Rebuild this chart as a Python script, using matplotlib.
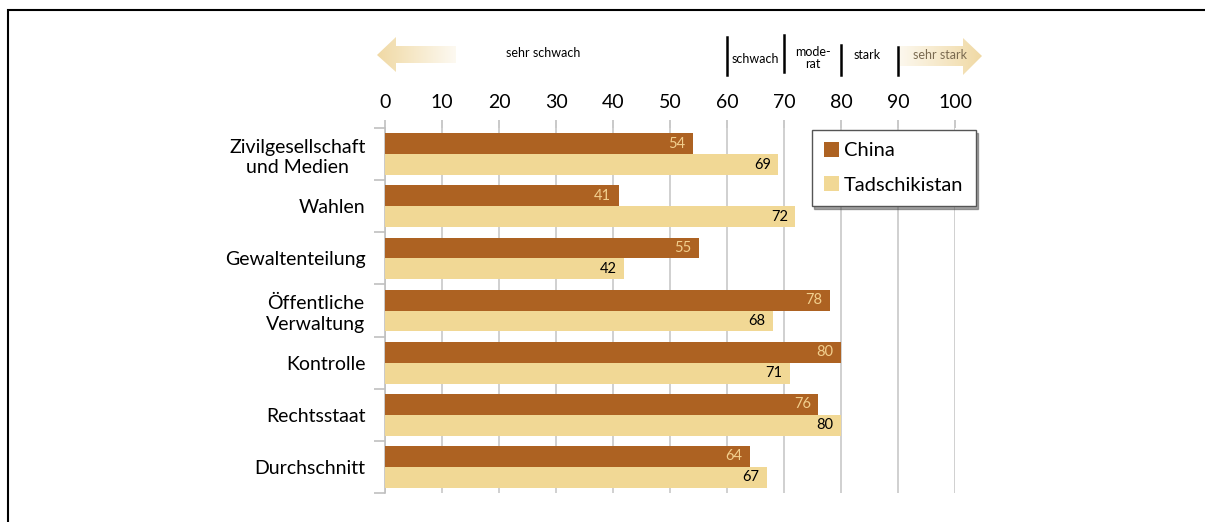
import matplotlib
matplotlib.use("Agg")
import matplotlib.pyplot as plt
import numpy as np
from matplotlib.patches import Rectangle, Polygon
from matplotlib.transforms import blended_transform_factory

plt.rcParams['font.family'] = ['Lato', 'DejaVu Sans']

categories = ["Zivilgesellschaft\nund Medien", "Wahlen", "Gewaltenteilung",
              "Öffentliche\nVerwaltung", "Kontrolle", "Rechtsstaat", "Durchschnitt"]
china = [54, 41, 55, 78, 80, 76, 64]
tadschikistan = [69, 72, 42, 68, 71, 80, 67]
xticks = [0, 10, 20, 30, 40, 50, 60, 70, 80, 90, 100]
scale_bounds = [60, 70, 80, 90]

C_CHINA = "#AD6222"
C_TAD = "#F1D895"
C_LBL = "#F2CF8E"

W, H = 1205, 522
fig = plt.figure(figsize=(W / 100, H / 100), dpi=100)
ax = fig.add_axes([385 / W, 1 - 493 / H, 570 / W, 365 / H])

y = np.arange(len(categories))
bh = 0.4
ax.barh(y - bh / 2, china, height=bh, color=C_CHINA, zorder=3, label="China")
ax.barh(y + bh / 2, tadschikistan, height=bh, color=C_TAD, zorder=3, label="Tadschikistan")

for i, (c, t) in enumerate(zip(china, tadschikistan)):
    ax.text(c - 1.3, i - bh / 2, str(c), ha='right', va='center', fontsize=10.5, color=C_LBL, zorder=4)
    ax.text(t - 1.3, i + bh / 2, str(t), ha='right', va='center', fontsize=10.5, color='black', zorder=4)

ax.set_xlim(0, 100)
ax.set_ylim(len(categories) - 0.5, -0.5)
ax.xaxis.tick_top()
ax.set_xticks(xticks)
ax.set_xticklabels([str(v) for v in xticks], fontsize=14)
ax.tick_params(axis='x', which='major', length=6, color='#c0c0c0', width=1.2, pad=6)
ax.grid(axis='x', color='#c8c8c8', linewidth=1.2, zorder=0)

ax.set_yticks(y)
ax.set_yticklabels(categories, fontsize=14, ha='right')
ax.tick_params(axis='y', which='major', length=0, pad=14)
ax.set_yticks(np.arange(-0.5, len(categories) + 0.5, 1), minor=True)
ax.tick_params(axis='y', which='minor', length=8, color='#c0c0c0', width=1.2)
for lab in ax.get_yticklabels():
    lab.set_multialignment('center')
    lab.set_linespacing(1.25)

for s in ['top', 'right', 'bottom']:
    ax.spines[s].set_visible(False)
ax.spines['left'].set_color('#c0c0c0')
ax.spines['left'].set_linewidth(1.2)

leg = ax.legend(loc='upper right', bbox_to_anchor=(1.036, 0.995), fontsize=14.5,
                frameon=True, fancybox=False, shadow=True, edgecolor='#555555',
                handlelength=0.75, handleheight=0.75, handletextpad=0.25,
                labelspacing=0.85, borderpad=0.6, borderaxespad=0)
leg.get_frame().set_linewidth(1.0)

# Scale annotations above axis
tr = blended_transform_factory(ax.transData, fig.transFigure)
line_spans = {60: (37, 75), 70: (35, 72), 80: (45, 75), 90: (47, 75)}
for b in scale_bounds:
    y0, y1 = line_spans[b]
    ax.plot([b, b], [1 - y1 / H, 1 - y0 / H], transform=tr, color='black', lw=1.8, clip_on=False)
fig.text(543 / W, 1 - 53 / H, "sehr schwach", fontsize=9, ha='center', va='center')
ax.text(65, 1 - 59 / H, "schwach", transform=tr, fontsize=9, ha='center', va='center')
ax.text(75, 1 - 58 / H, "mode-\nrat", transform=tr, fontsize=9, ha='center', va='center', linespacing=1.1)
ax.text(84.5, 1 - 55 / H, "stark", transform=tr, fontsize=9, ha='center', va='center')

# gradient arrows on overlay axes (pixel space)
ov = fig.add_axes([0, 0, 1, 1], zorder=-1)
ov.set_xlim(0, W)
ov.set_ylim(H, 0)
ov.axis('off')
tan = np.array([0xF0, 0xD9, 0xA4]) / 255.0
white = np.array([1, 1, 1.0])

def grad_arrow(x0, x1, poly, left_strong):
    n = 200
    t = np.linspace(0, 1, n)
    if not left_strong:
        t = t[::-1]
    cols = (1 - t)[:, None] * tan + t[:, None] * white
    img = np.tile(cols[None, :, :], (10, 1, 1))
    im = ov.imshow(img, extent=[x0, x1, 80, 30], aspect='auto', zorder=1)
    p = Polygon(poly, closed=True, transform=ov.transData, facecolor='none', edgecolor='none')
    ov.add_patch(p)
    im.set_clip_path(p)

grad_arrow(377, 470, [(377, 55), (396, 37), (396, 46), (456, 46), (456, 63), (396, 63), (396, 72)], True)
grad_arrow(880, 982, [(900, 46), (963, 46), (963, 38), (982, 56), (963, 75), (963, 66), (900, 66)], False)
fig.text(940 / W, 1 - 55 / H, "sehr stark", fontsize=9, ha='center', va='center', color='#7a6a50')

# outer frame
fig.add_artist(Rectangle((8 / W, -0.2), 1.2, 1 - 10 / H + 0.2, transform=fig.transFigure,
                         fill=False, edgecolor='black', lw=1.5))

fig.savefig("out.png", dpi=100)
